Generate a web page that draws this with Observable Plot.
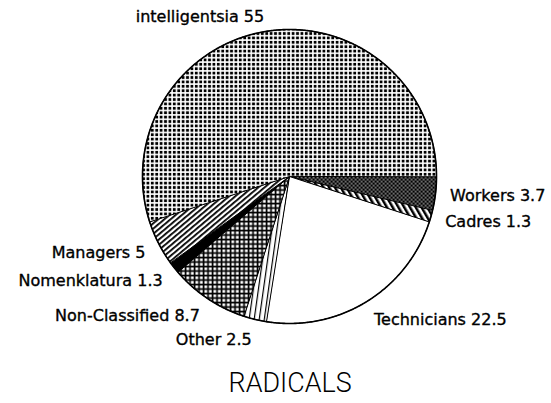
<!DOCTYPE html>
<html><head><meta charset="utf-8">
<script src="https://cdn.jsdelivr.net/npm/d3@7"></script>
<script src="https://cdn.jsdelivr.net/npm/@observablehq/plot@0.6"></script>
<style>
html,body{margin:0;padding:0;background:#fff;}
#title{box-sizing:border-box;width:551px;padding-left:30px;text-align:center;font-family:Roboto,"Liberation Sans",sans-serif;font-weight:300;font-size:28px;line-height:28px;color:#000;}
#title span{display:inline-block;transform:scaleX(0.96);}
</style></head><body>
<div id="chart"></div>
<div id="title"><span>RADICALS</span></div>
<script>
// Data (clockwise from 3 o'clock)
const categories = ["Workers", "Cadres", "Technicians", "Other", "Non-Classified", "Nomenklatura", "Managers", "intelligentsia"];
const values = [3.7, 1.3, 22.5, 2.5, 8.7, 1.3, 5, 55];
// Styles
const fills = ["url(#pWorkers)", "url(#pCadres)", "#ffffff", "url(#pOther)", "url(#pGrid)", "#000000", "url(#pManagers)", "url(#pDots)"];

const total = d3.sum(values);
let acc = 0;
const slices = categories.map((c, i) => {
  const a0 = acc / total * 2 * Math.PI;
  acc += values[i];
  const a1 = acc / total * 2 * Math.PI;
  const mid = (a0 + a1) / 2;
  return {category: c, value: values[i], a0, a1, mid, fill: fills[i], label: `${c} ${values[i]}`};
});

function sector(a0, a1, withCenter = true) {
  const n = Math.max(2, Math.ceil((a1 - a0) / (Math.PI / 360)));
  const pts = withCenter ? [[0, 0]] : [];
  for (let k = 0; k <= n; k++) {
    const a = a0 + (a1 - a0) * k / n;
    pts.push([Math.cos(a), Math.sin(a)]);
  }
  pts.push(pts[0]);
  return {type: "Polygon", coordinates: [pts]};
}

const features = slices.map(s => ({type: "Feature", properties: s, geometry: sector(s.a0, s.a1)}));
const circle = {type: "Feature", properties: {}, geometry: sector(0, 2 * Math.PI, false)};

const labelR = 1.1;
const lx = s => labelR * Math.cos(s.mid);
const ly = s => labelR * Math.sin(s.mid) + 0.04 * Math.max(0, Math.sin(s.mid));

const defs = () => {
  const g = d3.create("svg:g");
  g.html(`<defs>
  <pattern id="pDots" width="4.4" height="4.4" patternUnits="userSpaceOnUse"><rect width="4.4" height="4.4" fill="#fff"/><rect x="0.8" y="0.8" width="2.8" height="2.8" fill="#000"/></pattern>
  <pattern id="pWorkers" width="4" height="4" patternUnits="userSpaceOnUse"><rect width="4" height="4" fill="#000"/><rect x="0.5" y="0.5" width="1.3" height="1.3" fill="#fff"/><rect x="2.5" y="2.5" width="1.3" height="1.3" fill="#fff"/></pattern>
  <pattern id="pCadres" width="5" height="5" patternUnits="userSpaceOnUse" patternTransform="rotate(-30)"><rect width="5" height="5" fill="#fff"/><rect width="2.5" height="5" fill="#000"/></pattern>
  <pattern id="pManagers" width="4" height="4" patternUnits="userSpaceOnUse" patternTransform="rotate(50)"><rect width="4" height="4" fill="#fff"/><rect width="1.8" height="4" fill="#000"/></pattern>
  <pattern id="pGrid" width="4.5" height="4.5" patternUnits="userSpaceOnUse"><rect width="4.5" height="4.5" fill="#000"/><rect x="1.4" y="1.4" width="2.8" height="2.8" fill="#fff"/></pattern>
  <pattern id="pOther" width="5" height="5" patternUnits="userSpaceOnUse" patternTransform="rotate(8)"><rect width="5" height="5" fill="#fff"/><rect width="1.2" height="5" fill="#000"/></pattern>
  </defs>`);
  return g.node();
};

const textOpts = {fontSize: 16, fontFamily: "'DejaVu Sans', sans-serif", fill: "#000", stroke: "#000", strokeWidth: 0.35, lineAnchor: "middle"};

const chart = Plot.plot({
  width: 551,
  height: 369,
  marginLeft: 142,
  marginRight: 115,
  marginTop: 29,
  marginBottom: 46,
  projection: {type: "identity", domain: circle, clip: false},
  color: {type: "identity"},
  style: {background: "#fff", overflow: "visible"},
  marks: [
    defs,
    Plot.geo(features, {fill: d => d.properties.fill, stroke: "#000", strokeWidth: 1}),
    Plot.geo([circle], {fill: "none", stroke: "#000", strokeWidth: 1.6}),
    Plot.text(slices.filter(s => Math.cos(s.mid) >= 0), {...textOpts, x: lx, y: ly, text: "label", textAnchor: "start", clip: false}),
    Plot.text(slices.filter(s => Math.cos(s.mid) < 0), {...textOpts, x: lx, y: ly, text: "label", textAnchor: "end", clip: false})
  ]
});
document.getElementById("chart").appendChild(chart);
</script>
</body></html>
